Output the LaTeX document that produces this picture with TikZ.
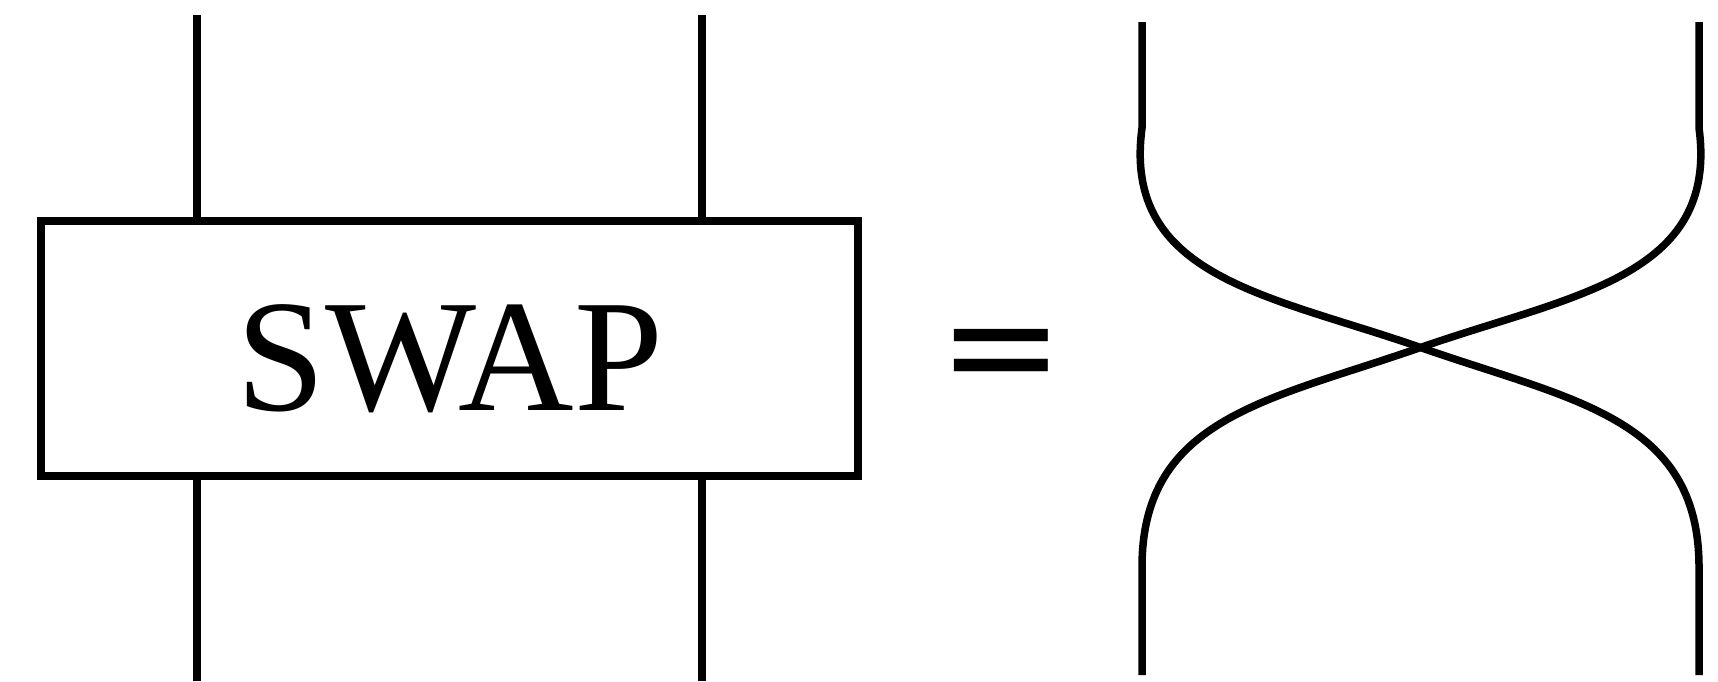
\documentclass[tikz,border=0pt]{standalone}
\usepackage{fontspec}
\setmainfont{Liberation Serif}
\newfontfamily\eqfont{DejaVu Sans}
\usetikzlibrary{positioning}

\begin{document}
\begin{tikzpicture}[x=1pt, y=-1pt, wire/.style={line width=7.5pt}, gate/.style={draw, line width=7.5pt, outer sep=0pt, minimum width=817pt, minimum height=255pt, font=\fontsize{160}{170}\selectfont, text height=123pt, text depth=0pt}]
\useasboundingbox (0,0) rectangle (1718,681);
\node[gate] (swap) at (449.5,348.5) {SWAP};
\foreach \n/\x in {a/197,b/702}
{\coordinate (\n top) at (\x,15); \coordinate (\n bot) at (\x,681);
\draw[wire] (\n top) -- (\n top |- swap.north);
\draw[wire] (\n bot |- swap.south) -- (\n bot);}
\node[font=\eqfont\fontsize{150}{160}\selectfont, inner sep=0pt] (eq) at (1001.5,363) {=};
\coordinate (cross) at (1420.5,347.5);
\coordinate (ltop) at (1142,22); \coordinate (lkink) at (1142,128);
\coordinate (rtop) at (1699,22); \coordinate (rkink) at (1699,128);
\coordinate (lbend) at (1142,567); \coordinate (lbot) at (1142,675);
\coordinate (rbend) at (1699,567); \coordinate (rbot) at (1699,675);
\draw[wire] (ltop) -- (lkink) .. controls +(-20,150) and +(-150,-52.5) .. (cross) .. controls +(150,52.5) and +(0,-150) .. (rbend) -- (rbot);
\draw[wire] (rtop) -- (rkink) .. controls +(20,150) and +(150,-52.5) .. (cross) .. controls +(-150,52.5) and +(0,-150) .. (lbend) -- (lbot);
\end{tikzpicture}
\end{document}
